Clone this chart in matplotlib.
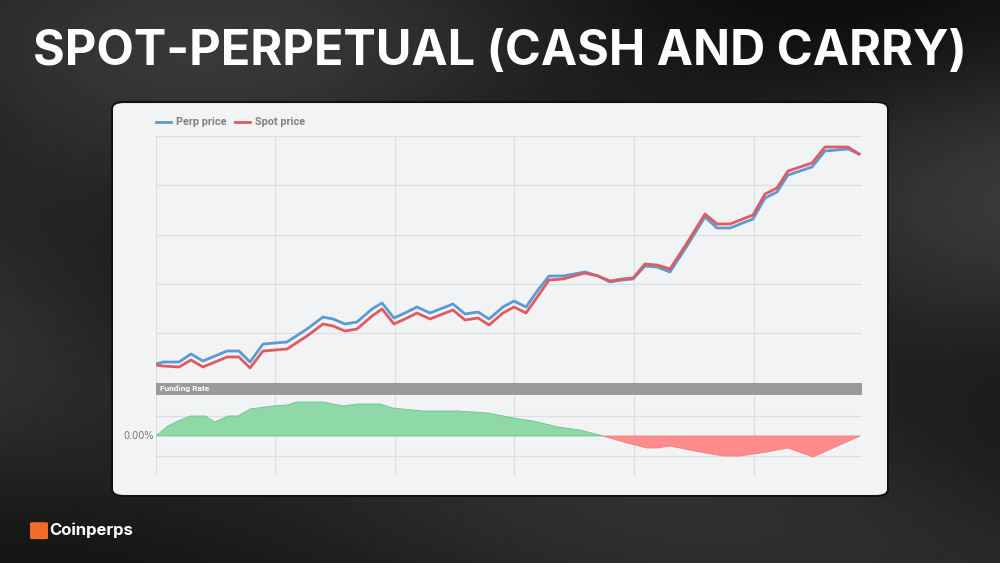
"""Spot vs perp price with funding rate panel (cash and carry)."""

import numpy as np
import matplotlib

matplotlib.use("Agg")
from matplotlib import pyplot as plt
from matplotlib.patches import FancyBboxPatch, Rectangle

# price series (x = time step, y = price in arbitrary units)
price_x = [156, 163, 179, 191, 203, 215, 227, 239, 250, 263, 287, 307, 323, 333, 345, 357, 372, 382,
           394, 405, 417, 430, 453, 465, 478, 489, 503, 514, 526, 538, 549, 563, 585, 598, 610, 622,
           633, 645, 657, 670, 687, 705, 717, 730, 753, 765, 777, 788, 812, 825, 848, 859]
perp_price = [19, 21, 21, 29, 22, 27, 32, 32, 21, 39, 41, 54, 66, 64, 59, 61, 74, 80,
              65, 70, 76, 70, 79, 69, 71, 64, 76, 82, 76, 93, 107, 107, 111, 107, 101, 103,
              104, 117, 116, 111, 137, 166, 155, 155, 164, 185, 191, 208, 216, 232, 234, 229]
spot_price = [18, 17, 16, 23, 16, 21, 26, 26, 15, 32, 34, 47, 59, 57, 52, 54, 67, 74,
              59, 64, 70, 64, 73, 63, 65, 58, 70, 76, 70, 87, 103, 104, 110, 107, 102, 104,
              105, 119, 118, 114, 140, 169, 159, 159, 168, 189, 195, 212, 220, 236, 236, 229]

# funding rate series
funding_x = [156, 168, 178, 191, 205, 215, 228, 238, 250, 273, 287, 297, 323, 343, 358, 380, 393, 423,
             457, 488, 513, 533, 558, 580, 603, 627, 647, 657, 670, 700, 723, 740, 767, 788, 813, 860]
funding_rate = [0, 10, 15, 20, 20, 14, 20, 20, 27, 30, 31, 34, 34, 30, 32, 32, 28, 25,
                25, 23, 18, 15, 9, 6, 0, -7, -12, -12, -10, -16, -20, -20, -16, -12, -21, 0]

x_grid = [275, 395, 514, 634, 754]
price_grid = [0, 50, 99, 148, 198, 247]
funding_grid = [-40, -20, 20]

W, H = 1000, 563


def fy(py):
    return 1 - py / H


fig = plt.figure(figsize=(10, 5.63), dpi=100)

# dark swirly background, card and legend live on a full-figure axes underneath
bg = fig.add_axes([0, 0, 1, 1])
bg.set_zorder(-5)
yy, xx = np.mgrid[0:1:200j, 0:1:360j]
shade = 0.13 + 0.06 * np.sin(6 * xx + 4 * yy) * np.exp(-((yy - 0.3) ** 2) * 3) + 0.04 * np.cos(9 * yy - 3 * xx)
bg.imshow(shade, cmap="gray", vmin=0, vmax=1, aspect="auto", extent=[0, 1, 0, 1], zorder=0)
bg.set_xlim(0, 1)
bg.set_ylim(0, 1)
bg.axis("off")

bg.text(0.5, fy(52), "SPOT-PERPETUAL (CASH AND CARRY)", color="white", fontsize=35,
        fontweight="bold", family="Inter", ha="center", va="center")
bg.add_patch(FancyBboxPatch((0.032, fy(538)), 0.014, 0.026, boxstyle="round,pad=0.002",
                            fc="#f26b2a", ec="none"))
bg.text(0.049, fy(530), "Coinperps", color="white", fontsize=12, fontweight="bold",
        family="Inter", va="center")

bg.add_patch(FancyBboxPatch((0.112, fy(496)), 0.776, fy(102) - fy(496),
                            boxstyle="round,pad=0,rounding_size=0.012",
                            fc="#f2f3f5", ec="#111111", lw=1.5, zorder=1))

# legend
bg.plot([0.156, 0.171], [fy(122)] * 2, color="#5b9bd5", lw=2, zorder=2)
bg.text(0.176, fy(122), "Perp price", color="#808080", fontsize=7.8, fontweight="bold",
        family="Roboto", va="center")
bg.plot([0.235, 0.250], [fy(122)] * 2, color="#e05a5f", lw=2, zorder=2)
bg.text(0.255, fy(122), "Spot price", color="#808080", fontsize=7.8, fontweight="bold",
        family="Roboto", va="center")
bg.add_patch(Rectangle((0.156, fy(395)), 0.706, fy(383) - fy(395), fc="#9a9a9a", ec="none", zorder=2))
bg.text(0.16, fy(389), "Funding Rate", color="white", fontsize=6, fontweight="bold",
        family="Roboto", va="center")
bg.text(0.154, fy(436), "0.00%", color="#777777", fontsize=7, ha="right", va="center")

grid_kw = dict(color="#dcdde0", lw=0.8, zorder=0)

ax = fig.add_axes([0.156, fy(383), 0.706, fy(136) - fy(383)])
ax.set_facecolor("none")
for v in price_grid:
    ax.axhline(v, **grid_kw)
for v in [156] + x_grid:
    ax.axvline(v, **grid_kw)
ax.plot(price_x, perp_price, color="#5b9bd5", lw=2, zorder=3)
ax.plot(price_x, spot_price, color="#e05a5f", lw=2, zorder=3)
ax.set_xlim(156, 862)
ax.set_ylim(0, 247)
ax.axis("off")

ax2 = fig.add_axes([0.156, fy(476), 0.706, fy(395) - fy(476)])
ax2.set_facecolor("none")
for v in funding_grid:
    ax2.axhline(v, **grid_kw)
for v in [156] + x_grid:
    ax2.axvline(v, **grid_kw)
fx = np.array(funding_x)
fv = np.array(funding_rate)
ax2.fill_between(fx, fv, 0, where=fv >= 0, interpolate=True, color="#8fd9a8",
                 edgecolor="#72c08e", lw=0.6, zorder=2)
ax2.fill_between(fx, fv, 0, where=fv <= 0, interpolate=True, color="#ff8c8c",
                 edgecolor="#f27d7d", lw=0.6, zorder=2)
ax2.set_xlim(156, 862)
ax2.set_ylim(-40, 41)
ax2.axis("off")

fig.savefig("out.png", dpi=100)
